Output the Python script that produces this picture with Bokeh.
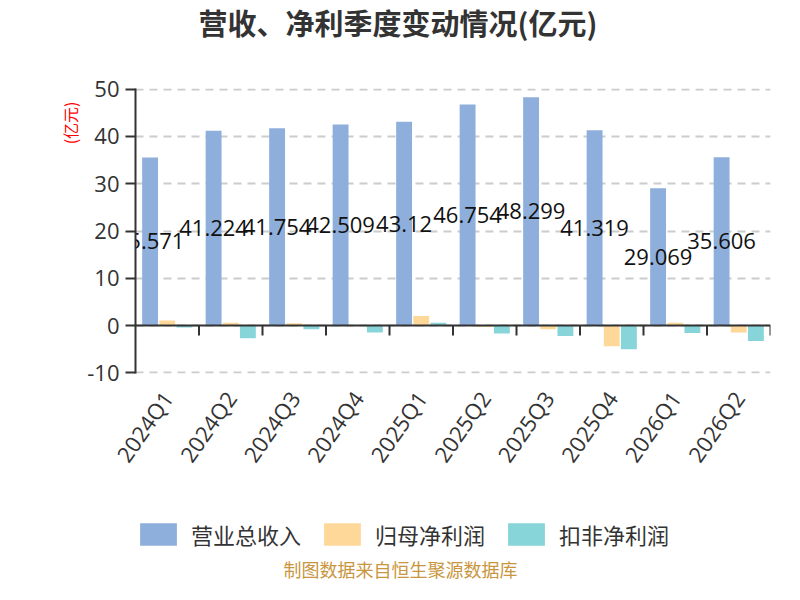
import math
import numpy as np
from bokeh.plotting import figure
from bokeh.layouts import column
from bokeh.models import (ColumnDataSource, FactorRange, Range1d, FixedTicker, Span, Title,
                          Legend, LegendItem, Label)
from bokeh.transform import dodge
from bokeh.core.properties import value
from bokeh.embed import file_html
from bokeh.resources import INLINE

quarters = ["2024Q1", "2024Q2", "2024Q3", "2024Q4", "2025Q1",
            "2025Q2", "2025Q3", "2025Q4", "2026Q1", "2026Q2"]
revenue = [35.571, 41.224, 41.754, 42.509, 43.12, 46.754, 48.299, 41.319, 29.069, 35.606]
net_profit = [1.06, 0.57, 0.5, 0.08, 2.0, -0.3, -0.8, -4.4, 0.6, -1.5]
deducted_profit = [-0.4, -2.7, -0.8, -1.5, 0.6, -1.7, -2.2, -5.0, -1.6, -3.3]
y_ticks = [-10, 0, 10, 20, 30, 40, 50]
y_tick_labels = ["-10", "0", "10", "20", "30", "40", "50"]

series_names = ["营业总收入", "归母净利润", "扣非净利润"]
colors = ["#8eaedb", "#fed899", "#87d5d9"]
title_text = "营收、净利季度变动情况(亿元)"
unit_text = "(亿元)"
footer_text = "制图数据来自恒生聚源数据库"

CJK = "Noto Sans CJK SC"
LAT = "Open Sans"

src = ColumnDataSource(dict(
    q=quarters,
    rev=revenue,
    net=net_profit,
    ded=deducted_profit,
    half=[v / 2 for v in revenue],
    lbl=[str(v) for v in revenue],
))

W = 784
H_MAIN = 483
H_FOOT = 101
FRAME_LEFT = 135

pad = 0.15
p = figure(width=W, height=H_MAIN, x_range=FactorRange(*quarters, range_padding=0),
           y_range=Range1d(y_ticks[0] - pad, y_ticks[-1] + pad),
           output_backend="svg", toolbar_location=None,
           min_border_left=FRAME_LEFT, min_border_right=14, min_border_top=0,
           min_border_bottom=110)
p.outline_line_color = None
p.background_fill_color = "white"
p.border_fill_color = "white"

offset = 0.27
bw = 0.25
bar_cols = ["rev", "net", "ded"]
offsets = [-offset, 0, offset]
for col, off, c in zip(bar_cols, offsets, colors):
    p.vbar(x=dodge("q", off, range=p.x_range), top=col, width=bw, source=src,
           fill_color=c, line_color=None)

# zero axis line and boundary ticks
p.add_layout(Span(location=0, dimension="width", line_color="#333333", line_width=2))
tick_len = (y_ticks[-1] - y_ticks[0]) * 10 / 283
src_t = ColumnDataSource(dict(q=quarters, y0=[0] * len(quarters), y1=[-tick_len] * len(quarters)))
p.segment(x0=dodge("q", 0.5, range=p.x_range), x1=dodge("q", 0.5, range=p.x_range),
          y0="y0", y1="y1", source=src_t, line_color="#333333", line_width=2)

# value labels
p.text(x=dodge("q", -offset, range=p.x_range), y="half", text="lbl", source=src,
       text_font=value(LAT), text_font_size="22px", text_color="#111111",
       text_align="center", text_baseline="middle")

# y axis
yax = p.yaxis[0]
yax.ticker = FixedTicker(ticks=y_ticks)
yax.major_label_overrides = dict(zip(y_ticks, y_tick_labels))
yax.axis_line_color = "#333333"
yax.axis_line_width = 2
yax.major_tick_line_color = "#333333"
yax.major_tick_line_width = 2
yax.major_tick_out = 10
yax.major_tick_in = 0
yax.minor_tick_line_color = None
yax.major_label_text_font = LAT
yax.major_label_text_font_size = "22px"
yax.major_label_text_color = "#333333"
yax.major_label_standoff = 6

# x axis (labels only)
xax = p.xaxis[0]
xax.axis_line_color = None
xax.major_tick_line_color = None
xax.minor_tick_line_color = None
xax.major_label_orientation = math.radians(55)
xax.major_label_text_font = LAT
xax.major_label_text_font_size = "22px"
xax.major_label_text_color = "#333333"
xax.major_label_standoff = 14

p.xgrid.grid_line_color = None
p.ygrid.ticker = FixedTicker(ticks=y_ticks)
p.ygrid.grid_line_color = "#cccccc"
p.ygrid.grid_line_width = 2
p.ygrid.grid_line_dash = "8 6"

# title (outermost) + spacer next to the frame
p.title.text = title_text
p.title.align = "left"
p.title.offset = 63
p.title.text_font = CJK
p.title.text_font_size = "29px"
p.title.text_font_style = "bold"
p.title.text_color = "#333333"
p.title.standoff = 0
p.title.vertical_align = "top"
p.add_layout(Title(text="\u3000", text_font_size="1px", standoff=41), "above")

# unit label at the left
p.add_layout(Title(text=unit_text, align="right", offset=13, text_font=CJK,
                   text_font_size="16px", text_font_style="normal", text_color="#ff0000",
                   standoff=4, vertical_align="middle"), "left")

# ---- lower strip: legend and source note ----
p2 = figure(width=W, height=H_FOOT, x_range=Range1d(0, W), y_range=Range1d(0, H_FOOT),
            output_backend="svg", toolbar_location=None,
            x_axis_location=None, y_axis_location=None,
            min_border=0, min_border_left=0, min_border_right=0,
            min_border_top=0, min_border_bottom=0)
p2.outline_line_color = None
p2.grid.visible = False
p2.background_fill_color = "white"
p2.border_fill_color = "white"

# proxy renderers (no drawable data) that only supply the legend swatches
proxy = ColumnDataSource(dict(x=np.array([np.nan]), top=np.array([np.nan])))
items = []
for name, c in zip(series_names, colors):
    r = p2.vbar(x="x", top="top", width=1, source=proxy, fill_color=c, line_color=None)
    items.append(LegendItem(label=name, renderers=[r], index=0))

lg = Legend(items=items, orientation="horizontal", location=(0, 34),
            border_line_color=None, background_fill_alpha=0, padding=0, margin=0,
            spacing=18, glyph_width=46, glyph_height=28, label_height=28,
            label_standoff=10, label_text_font=CJK, label_text_font_size="22px",
            label_text_color="#333333", label_text_baseline="middle")
p2.add_layout(lg)

p2.add_layout(Label(x=400 - FRAME_LEFT, y=16, x_units="screen", y_units="screen",
                    text=footer_text, text_font=CJK, text_font_size="18px",
                    text_color="#c8963e", text_align="center", text_baseline="middle"))

layout = column(p, p2, spacing=0)
open("out.html", "w").write(file_html(layout, INLINE))
